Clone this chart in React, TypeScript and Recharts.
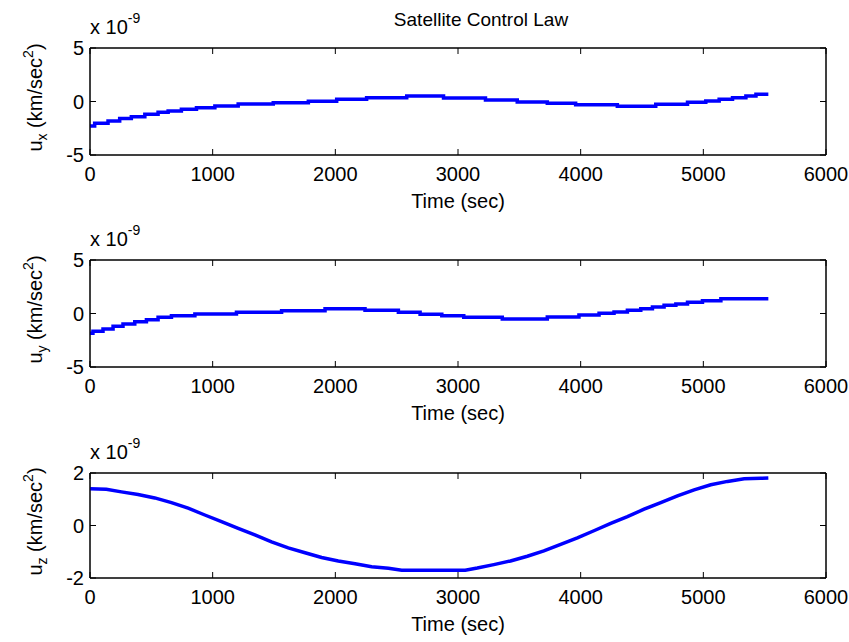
import React from 'react';
import { LineChart, Line, XAxis, YAxis, ReferenceArea } from 'recharts';

// Values are in units of 1e-9 km/sec^2
const uxTime = [0, 38, 147, 242, 337, 447, 555, 637, 745, 868, 1018, 1208, 1494, 1780, 2011, 2255, 2582, 2882, 3224, 3483, 3728, 3959, 4299, 4612, 4871, 5020, 5129, 5238, 5347, 5429, 5530];
const uxValue = [-2.29, -2.04, -1.82, -1.6, -1.42, -1.2, -1.0, -0.89, -0.73, -0.58, -0.42, -0.23, -0.11, 0.02, 0.21, 0.36, 0.51, 0.33, 0.14, -0.05, -0.17, -0.3, -0.45, -0.26, -0.08, 0.05, 0.21, 0.36, 0.51, 0.67, 0.67];

const uyTime = [0, 24, 106, 188, 269, 365, 460, 555, 664, 855, 1194, 1562, 1916, 2242, 2514, 2691, 2868, 3047, 3361, 3728, 3986, 4150, 4272, 4381, 4490, 4585, 4680, 4776, 4871, 4993, 5143, 5530];
const uyValue = [-1.85, -1.67, -1.45, -1.2, -0.98, -0.77, -0.58, -0.36, -0.2, -0.05, 0.11, 0.26, 0.45, 0.3, 0.11, -0.07, -0.2, -0.36, -0.51, -0.33, -0.14, 0.02, 0.14, 0.3, 0.45, 0.61, 0.77, 0.89, 1.05, 1.2, 1.38, 1.38];

const uzTime = [0, 133, 256, 392, 528, 664, 800, 936, 1072, 1208, 1344, 1480, 1616, 1753, 1888, 2024, 2161, 2296, 2433, 2541, 3059, 3157, 3292, 3428, 3565, 3700, 3837, 3973, 4108, 4245, 4381, 4517, 4653, 4789, 4925, 5061, 5197, 5333, 5469, 5530];
const uzValue = [1.4, 1.38, 1.28, 1.18, 1.05, 0.87, 0.66, 0.4, 0.15, -0.11, -0.36, -0.62, -0.85, -1.04, -1.22, -1.35, -1.46, -1.57, -1.63, -1.7, -1.7, -1.62, -1.49, -1.35, -1.17, -0.97, -0.72, -0.47, -0.2, 0.08, 0.34, 0.62, 0.87, 1.13, 1.36, 1.55, 1.68, 1.78, 1.8, 1.81];

const timeTicks = [0, 1000, 2000, 3000, 4000, 5000, 6000];
const uxTicks = [-5, 0, 5];
const uyTicks = [-5, 0, 5];
const uzTicks = [-2, 0, 2];

const title = 'Satellite Control Law';
const xLabel = 'Time (sec)';

const FONT = '"Liberation Sans", Arial, Helvetica, sans-serif';
const FS = 20;
const SUB = 14;
const TICK_LEN = 6;

const toRows = (t: number[], v: number[]) => t.map((time, i) => ({ t: time, v: v[i] }));

const BottomTick = (props: any) => {
  const { x, y, payload } = props;
  return (
    <g>
      <line x1={x} y1={y} x2={x} y2={y - TICK_LEN} stroke="#000" strokeWidth={1} />
      <text x={x} y={y + 26} textAnchor="middle" fontSize={FS} fontFamily={FONT} fill="#000">{payload.value}</text>
    </g>
  );
};
const TopTick = (props: any) => {
  const { x, y } = props;
  return <line x1={x} y1={y} x2={x} y2={y + TICK_LEN} stroke="#000" strokeWidth={1} />;
};
const LeftTick = (props: any) => {
  const { x, y, payload } = props;
  return (
    <g>
      <line x1={x} y1={y} x2={x + TICK_LEN} y2={y} stroke="#000" strokeWidth={1} />
      <text x={x - 6} y={y + 7} textAnchor="end" fontSize={FS} fontFamily={FONT} fill="#000">{payload.value}</text>
    </g>
  );
};
const RightTick = (props: any) => {
  const { x, y } = props;
  return <line x1={x} y1={y} x2={x - TICK_LEN} y2={y} stroke="#000" strokeWidth={1} />;
};

const YLabel = ({ sub, viewBox }: any) => {
  const cx = 42;
  const cy = viewBox.y + viewBox.height / 2 - 4;
  return (
    <text transform={`translate(${cx},${cy}) rotate(-90)`} textAnchor="middle" fontSize={FS} fontFamily={FONT} fill="#000">
      u<tspan dy={5} fontSize={SUB}>{sub}</tspan>
      <tspan dy={-5}> (km/sec</tspan>
      <tspan dy={-9} fontSize={SUB}>2</tspan>
      <tspan dy={9}>)</tspan>
    </text>
  );
};

const XLabel = ({ viewBox }: any) => (
  <text x={viewBox.x + viewBox.width / 2} y={viewBox.y + 53} textAnchor="middle" fontSize={FS} fontFamily={FONT} fill="#000">{xLabel}</text>
);

const Exponent = ({ viewBox }: any) => (
  <text x={viewBox.x} y={viewBox.y - 14} fontSize={FS} fontFamily={FONT} fill="#000">
    x 10<tspan dy={-11} fontSize={SUB}>-9</tspan>
  </text>
);

type PanelProps = {
  rows: { t: number; v: number }[];
  domain: [number, number];
  ticks: number[];
  sub: string;
  height: number;
  top: number;
  stepped: boolean;
};

const Panel = ({ rows, domain, ticks, sub, height, top, stepped }: PanelProps) => (
  <div style={{ position: 'absolute', left: 0, top }}>
    <LineChart width={849} height={height} data={rows} margin={{ top: 47, right: 22, left: 0, bottom: 0 }}>
      <XAxis
        xAxisId="bottom"
        dataKey="t"
        type="number"
        domain={[0, 6000]}
        ticks={timeTicks}
        interval={0}
        height={57}
        tickSize={0}
        tickMargin={0}
        tickLine={false}
        axisLine={{ stroke: '#000', strokeWidth: 1 }}
        tick={<BottomTick />}
        label={<XLabel />}
      />
      <XAxis
        xAxisId="top"
        orientation="top"
        dataKey="t"
        type="number"
        domain={[0, 6000]}
        ticks={timeTicks}
        interval={0}
        height={1}
        tickSize={0}
        tickMargin={0}
        tickLine={false}
        axisLine={{ stroke: '#000', strokeWidth: 1 }}
        tick={<TopTick />}
      />
      <YAxis
        yAxisId="left"
        type="number"
        domain={domain}
        ticks={ticks}
        interval={0}
        width={90}
        tickSize={0}
        tickMargin={0}
        tickLine={false}
        axisLine={{ stroke: '#000', strokeWidth: 1 }}
        tick={<LeftTick />}
        label={<YLabel sub={sub} />}
      />
      <YAxis
        yAxisId="right"
        orientation="right"
        type="number"
        domain={domain}
        ticks={ticks}
        interval={0}
        width={1}
        tickSize={0}
        tickMargin={0}
        tickLine={false}
        axisLine={{ stroke: '#000', strokeWidth: 1 }}
        tick={<RightTick />}
      />
      <ReferenceArea
        xAxisId="bottom"
        yAxisId="left"
        x1={0}
        x2={6000}
        y1={domain[0]}
        y2={domain[1]}
        fill="none"
        fillOpacity={0}
        stroke="#000"
        strokeWidth={1}
        label={<Exponent />}
        ifOverflow="extendDomain"
      />
      <Line
        xAxisId="top"
        yAxisId="right"
        dataKey="v"
        type="linear"
        stroke="none"
        strokeWidth={0}
        dot={false}
        activeDot={false}
        legendType="none"
        isAnimationActive={false}
      />
      <Line
        xAxisId="bottom"
        yAxisId="left"
        dataKey="v"
        type={stepped ? 'stepAfter' : 'linear'}
        stroke="#0000FF"
        strokeWidth={3.5}
        dot={false}
        isAnimationActive={false}
      />
    </LineChart>
  </div>
);

export default function App() {
  return (
    <div style={{ position: 'absolute', left: 0, top: 0, width: 849, height: 642, background: '#fff', overflow: 'hidden' }}>
      <Panel rows={toRows(uxTime, uxValue)} domain={[-5, 5]} ticks={uxTicks} sub="x" height={212} top={0} stepped />
      <Panel rows={toRows(uyTime, uyValue)} domain={[-5, 5]} ticks={uyTicks} sub="y" height={212} top={212} stepped />
      <Panel rows={toRows(uzTime, uzValue)} domain={[-2, 2]} ticks={uzTicks} sub="z" height={210} top={425} stepped={false} />
      <div
        style={{
          position: 'absolute',
          left: 381,
          width: 200,
          top: 8,
          textAlign: 'center',
          whiteSpace: 'nowrap',
          fontFamily: FONT,
          fontSize: 19,
          lineHeight: '24px',
          color: '#000',
        }}
      >
        {title}
      </div>
    </div>
  );
}
